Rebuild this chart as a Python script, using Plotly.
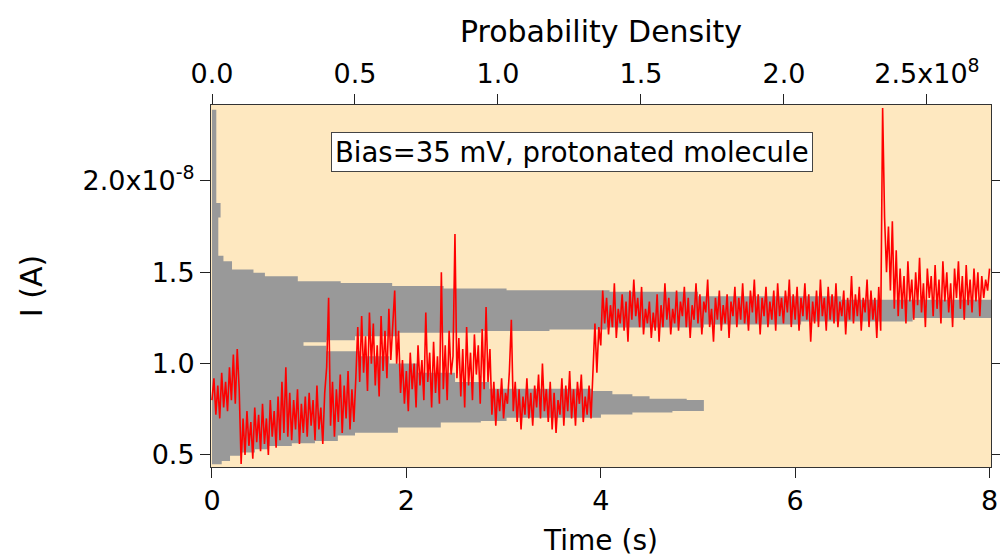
import plotly.graph_objects as go

# ---------------- data (current in units of 1e-8 A, density in units of 1e8) -------------
sample_interval_s = 0.02

current_trace = [
    # 0.00 - 0.28 s
    0.80, 0.92, 0.72, 0.88, 0.70, 0.95, 0.76, 0.90, 0.74, 0.98, 0.80, 1.05, 0.78, 1.08, 0.86,
    # 0.30 s drop
    0.45,
    # 0.32 - 1.02 s
    0.70, 0.50, 0.74, 0.55, 0.68, 0.48, 0.76, 0.57, 0.72, 0.52,
    0.78, 0.56, 0.70, 0.50, 0.80, 0.60, 0.74, 0.54, 0.82, 0.58,
    0.90, 0.62, 0.98, 0.60, 0.84, 0.58, 0.80, 0.64, 0.86, 0.56,
    0.78, 0.62, 0.82, 0.60, 0.84, 0.66,
    # 1.04 - 1.48 s
    0.80, 0.58, 0.88, 0.64, 0.76, 0.56, 0.84, 0.98,
    1.36, 0.66, 0.90, 0.60, 0.86, 0.68, 0.94, 0.62, 0.88, 0.70, 0.96, 0.64,
    0.86, 0.68, 0.92,
    # 1.50 - 1.92 s
    1.20, 0.90, 1.26, 0.95, 1.15, 0.85, 1.28, 1.00, 1.22, 0.88,
    1.10, 0.82, 1.26, 0.96, 1.18, 0.92, 1.30, 1.02, 1.20, 1.40,
    1.00, 1.18,
    # 1.94 - 2.86 s
    0.84, 1.02, 0.78, 0.96, 0.74, 1.06, 0.86, 1.00, 0.76, 1.10,
    0.88, 1.02, 0.80, 1.28, 0.90, 1.06, 0.76, 1.12, 0.84, 1.04,
    0.78, 1.50, 0.86, 1.10, 0.80, 1.18, 0.94, 1.04, 1.71, 0.92,
    1.14, 0.82, 1.08, 0.76, 1.20, 0.88, 1.06, 0.80, 1.16, 0.94,
    1.10, 0.78, 1.19, 0.86, 1.31, 0.90, 1.08,
    # 2.88 - 3.90 s
    0.72, 0.90, 0.66, 0.86, 0.74, 0.92, 0.70, 0.84, 0.78, 0.96,
    1.24, 0.74, 0.90, 0.68, 0.86, 0.64, 0.82, 0.72, 0.92, 0.70,
    0.84, 0.66, 0.88, 0.76, 0.94, 0.70, 1.00, 0.74, 0.86, 0.68,
    0.90, 0.64, 0.84, 0.62, 0.80, 0.72, 0.92, 0.66, 0.88, 0.74,
    0.96, 0.70, 0.86, 0.66, 0.90, 0.78, 0.94, 0.68, 0.82, 0.72, 0.88, 0.70,
    # 3.92 - 4.00 s
    0.98, 1.22, 0.95, 1.20, 1.10,
    # 4.02 - 6.88 s
    1.40, 1.22, 1.36, 1.16, 1.32, 1.20, 1.44, 1.14, 1.30, 1.22,
    1.38, 1.18, 1.34, 1.12, 1.40, 1.24, 1.46, 1.26, 1.36, 1.20,
    1.42, 1.16, 1.30, 1.22, 1.34, 1.14, 1.28, 1.18, 1.38, 1.12,
    1.32, 1.20, 1.44, 1.24, 1.36, 1.16, 1.30, 1.22, 1.40, 1.18,
    1.34, 1.26, 1.42, 1.20, 1.36, 1.14, 1.32, 1.24, 1.44, 1.22,
    1.38, 1.16, 1.34, 1.28, 1.46, 1.20, 1.30, 1.12, 1.36, 1.24,
    1.40, 1.18, 1.32, 1.22, 1.38, 1.14, 1.34, 1.26, 1.42, 1.20,
    1.36, 1.24, 1.44, 1.22, 1.34, 1.18, 1.40, 1.28, 1.46, 1.22,
    1.38, 1.16, 1.36, 1.26, 1.42, 1.20, 1.34, 1.24, 1.40, 1.18,
    1.44, 1.26, 1.36, 1.22, 1.40, 1.28, 1.46, 1.20, 1.38, 1.24,
    1.42, 1.18, 1.36, 1.26, 1.44, 1.24, 1.38, 1.12, 1.34, 1.22,
    1.40, 1.20, 1.46, 1.26, 1.36, 1.18, 1.42, 1.24, 1.38, 1.22,
    1.44, 1.20, 1.34, 1.26, 1.40, 1.16, 1.36, 1.24, 1.48, 1.22,
    1.38, 1.26, 1.42, 1.18, 1.36, 1.28, 1.46, 1.20, 1.40, 1.24,
    1.36, 1.14, 1.42, 1.18,
    # 6.90 - 7.04 s spike
    2.40, 1.80, 1.50, 1.75, 1.40, 1.78, 1.30, 1.62,
    # 7.06 - 8.00 s
    1.26, 1.52, 1.30, 1.48, 1.22, 1.56, 1.34, 1.46, 1.24, 1.50,
    1.32, 1.58, 1.28, 1.44, 1.20, 1.52, 1.36, 1.48, 1.26, 1.54,
    1.30, 1.46, 1.22, 1.56, 1.34, 1.50, 1.28, 1.44, 1.20, 1.52,
    1.36, 1.56, 1.30, 1.48, 1.24, 1.54, 1.32, 1.46, 1.28, 1.52,
    1.34, 1.50, 1.26, 1.48, 1.36, 1.46, 1.40, 1.52,
]

hist_edges = [0.449, 0.467, 0.495, 0.513, 0.531, 0.549, 0.564, 0.577, 0.607, 0.622,
              0.650, 0.677, 0.686, 0.704, 0.722, 0.732, 0.740, 0.801, 0.808, 0.822,
              0.832, 0.850, 0.862, 0.900, 0.950, 1.000, 1.040, 1.068, 1.098, 1.117,
              1.128, 1.150, 1.169, 1.178, 1.187, 1.198, 1.214, 1.230, 1.250, 1.350,
              1.369, 1.393, 1.402, 1.411, 1.425, 1.442, 1.451, 1.478, 1.497, 1.515,
              1.560, 1.590, 1.800, 1.880, 2.390]
hist_density = [0.034, 0.063, 0.098, 0.15, 0.196, 0.279, 0.36, 0.44, 0.50, 0.65,
                0.80, 0.94, 1.03, 1.36, 1.47, 1.61, 1.72, 1.66, 1.53, 1.47,
                1.40, 1.33, 0.97, 0.85, 0.72, 0.62, 0.52, 0.40, 0.32, 0.40,
                0.50, 0.65, 0.94, 1.18, 1.38, 1.72, 2.06, 2.45, 3.00, 2.20,
                1.70, 1.39, 1.03, 0.81, 0.63, 0.45, 0.30, 0.185, 0.145, 0.07,
                0.04, 0.022, 0.03, 0.015]

time_ticks = [0, 2, 4, 6, 8]
time_tick_text = ["0", "2", "4", "6", "8"]
current_ticks = [0.5, 1.0, 1.5, 2.0]
current_tick_text = ["0.5", "1.0", "1.5", "2.0x10<sup>-8</sup>"]
density_ticks = [0.0, 0.5, 1.0, 1.5, 2.0, 2.5]
density_tick_text = ["0.0", "0.5", "1.0", "1.5", "2.0", "2.5x10<sup>8</sup>"]

assert len(hist_edges) == len(hist_density) + 1

# ---------------- figure -------------
FONT = "DejaVu Sans"
fig = go.Figure()

# histogram as a filled step outline (density vs current), on the top (density) axis
step_x = [0.0] + hist_density + [hist_density[-1], 0.0]
step_y = [hist_edges[0]] + hist_edges[:-1] + [hist_edges[-1], hist_edges[-1]]
fig.add_trace(go.Scatter(
    x=step_x, y=step_y, xaxis="x", yaxis="y",
    mode="lines", line=dict(width=0, shape="vh", color="#999999"),
    fill="toself", fillcolor="#999999", hoverinfo="skip", showlegend=False,
))

# current trace on the bottom (time) axis, drawn above the histogram
fig.add_trace(go.Scatter(
    x0=0, dx=sample_interval_s, y=current_trace, xaxis="x2", yaxis="y",
    mode="lines", line=dict(color="#FF0000", width=1.6),
    showlegend=False,
))

axis_common = dict(
    showgrid=False, zeroline=False, showline=True, linecolor="#333333", linewidth=1,
    ticks="outside", ticklen=10, tickcolor="#222222", tickwidth=1, automargin=False,
)

fig.update_layout(
    width=1000, height=558,
    margin=dict(l=211, r=9, t=105, b=91),
    paper_bgcolor="white",
    plot_bgcolor="#FEE8C0",
    font=dict(family=FONT, color="black"),
    xaxis=dict(
        side="top", anchor="y",
        range=[-0.0035, 2.724], tickvals=density_ticks, ticktext=density_tick_text,
        tickfont=dict(size=27, family=FONT),
        title=dict(text="Probability Density", font=dict(size=30, family=FONT), standoff=2),
        **axis_common,
    ),
    xaxis2=dict(
        overlaying="x", side="bottom", anchor="y",
        range=[-0.01, 8.015], tickvals=time_ticks, ticktext=time_tick_text,
        tickfont=dict(size=27, family=FONT),
        title=dict(text="Time (s)", font=dict(size=28, family=FONT), standoff=14),
        **axis_common,
    ),
    yaxis=dict(
        range=[0.434, 2.416], tickvals=current_ticks, ticktext=current_tick_text,
        tickfont=dict(size=27, family=FONT), mirror="ticks",
        title=dict(text="I (A)", font=dict(size=30, family=FONT), standoff=30),
        **axis_common,
    ),
    annotations=[dict(
        text="Bias=35 mV, protonated molecule",
        xref="paper", yref="paper", x=0.463, y=0.870,
        xanchor="center", yanchor="middle", showarrow=False,
        font=dict(size=27.5, family=FONT, color="black"),
        bgcolor="white", bordercolor="#444444", borderwidth=1, borderpad=3,
    )],
)

fig.write_html("out.html")
